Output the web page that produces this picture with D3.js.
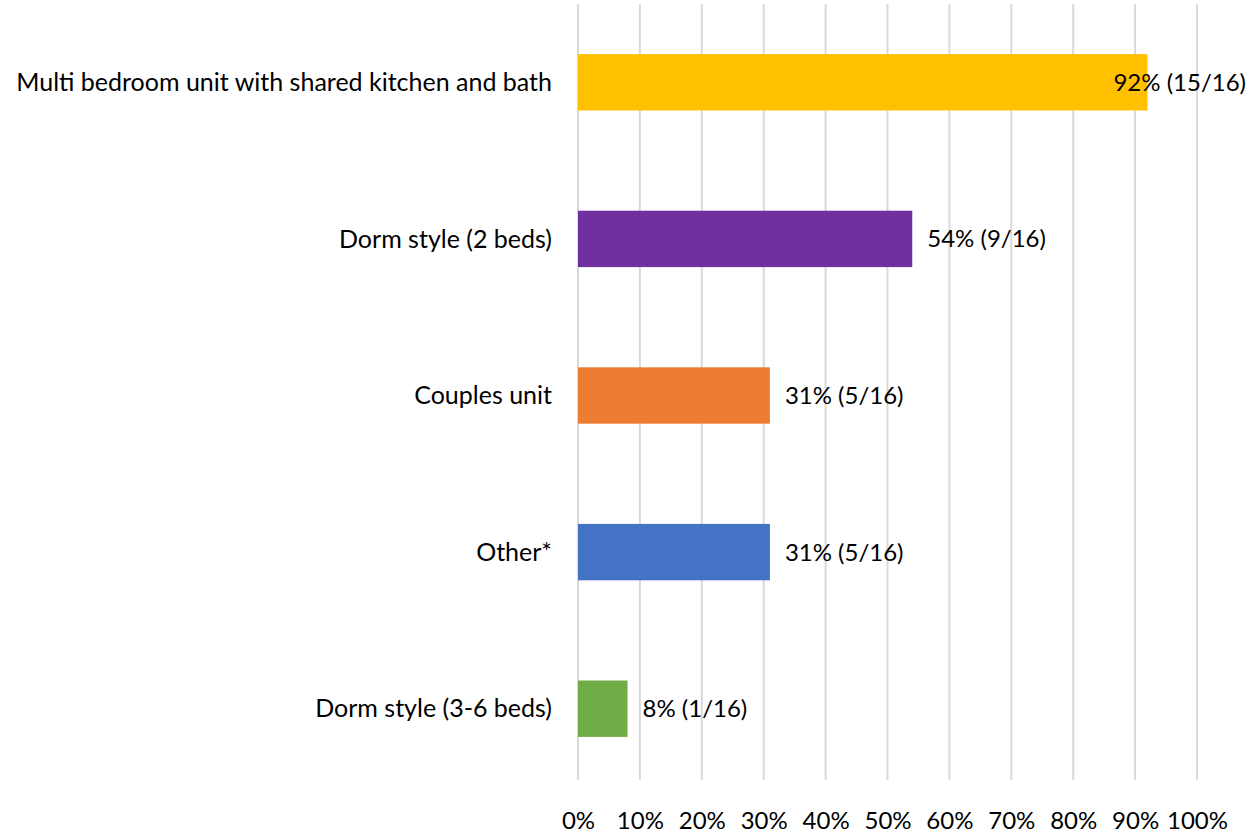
<!DOCTYPE html>
<html>
<head>
<meta charset="utf-8">
<script src="https://cdn.jsdelivr.net/npm/d3@7"></script>
<style>
  html, body { margin: 0; padding: 0; background: #fff; }
  svg text { font-family: Lato, "Open Sans", "Liberation Sans", sans-serif; fill: #000; }
</style>
</head>
<body>
<svg id="chart" width="1259" height="836"></svg>
<script>
// Housing unit preferences (share of respondents)
const categories = [
  "Multi bedroom unit with shared kitchen and bath",
  "Dorm style (2 beds)",
  "Couples unit",
  "Other*",
  "Dorm style (3-6 beds)"
];
const values = [92, 54, 31, 31, 8];
const counts = ["15/16", "9/16", "5/16", "5/16", "1/16"];
const colors = ["#FFC000", "#7030A0", "#ED7D31", "#4472C4", "#70AD47"];
const tickValues = [0, 10, 20, 30, 40, 50, 60, 70, 80, 90, 100];

const svg = d3.select("#chart");
const W = 1259;
const margin = { left: 578, right: 62, top: 4, bottom: 50 };
const plotW = 1197 - margin.left;
const plotH = 787 - margin.top;
const catFont = 25;
const valFont = 24;

const x = d3.scaleLinear().domain([0, 100]).range([margin.left, margin.left + plotW]);
const y = d3.scaleBand().domain(categories).range([margin.top, margin.top + plotH]).paddingInner(0.64).paddingOuter(0.32);

// vertical gridlines
svg.append("g")
  .selectAll("line")
  .data(tickValues)
  .join("line")
  .attr("x1", d => x(d)).attr("x2", d => x(d))
  .attr("y1", margin.top).attr("y2", margin.top + plotH - 7)
  .attr("stroke", "#d9d9d9")
  .attr("stroke-width", 2);

// x axis tick labels
const xAxis = d3.axisBottom(x).tickValues(tickValues).tickFormat(d => d + "%").tickSize(0).tickPadding(0);
const gx = svg.append("g")
  .attr("transform", `translate(0, ${margin.top + plotH + 25})`)
  .call(xAxis);
gx.select(".domain").remove();
gx.selectAll("text")
  .attr("font-size", valFont)
  .attr("font-family", null)
  .attr("fill", "#000");

// category labels
svg.append("g")
  .selectAll("text")
  .data(categories)
  .join("text")
  .attr("x", margin.left - 26)
  .attr("y", d => y(d) + y.bandwidth() / 2)
  .attr("dy", "0.35em")
  .attr("text-anchor", "end")
  .attr("font-size", catFont)
  .text(d => d);

// bars
svg.append("g")
  .selectAll("rect")
  .data(values)
  .join("rect")
  .attr("x", x(0))
  .attr("y", (d, i) => y(categories[i]))
  .attr("width", d => x(d) - x(0))
  .attr("height", y.bandwidth())
  .attr("fill", (d, i) => colors[i]);

// value labels
const labels = svg.append("g")
  .selectAll("text")
  .data(values)
  .join("text")
  .attr("y", (d, i) => y(categories[i]) + y.bandwidth() / 2)
  .attr("dy", "0.35em")
  .attr("font-size", valFont)
  .text((d, i) => `${d}% (${counts[i]})`);

labels.each(function(d) {
  const w = this.getComputedTextLength();
  let lx = x(d) + 15;
  if (lx + w > W - 13) lx = W - 13 - w;
  d3.select(this).attr("x", lx);
});
</script>
</body>
</html>
